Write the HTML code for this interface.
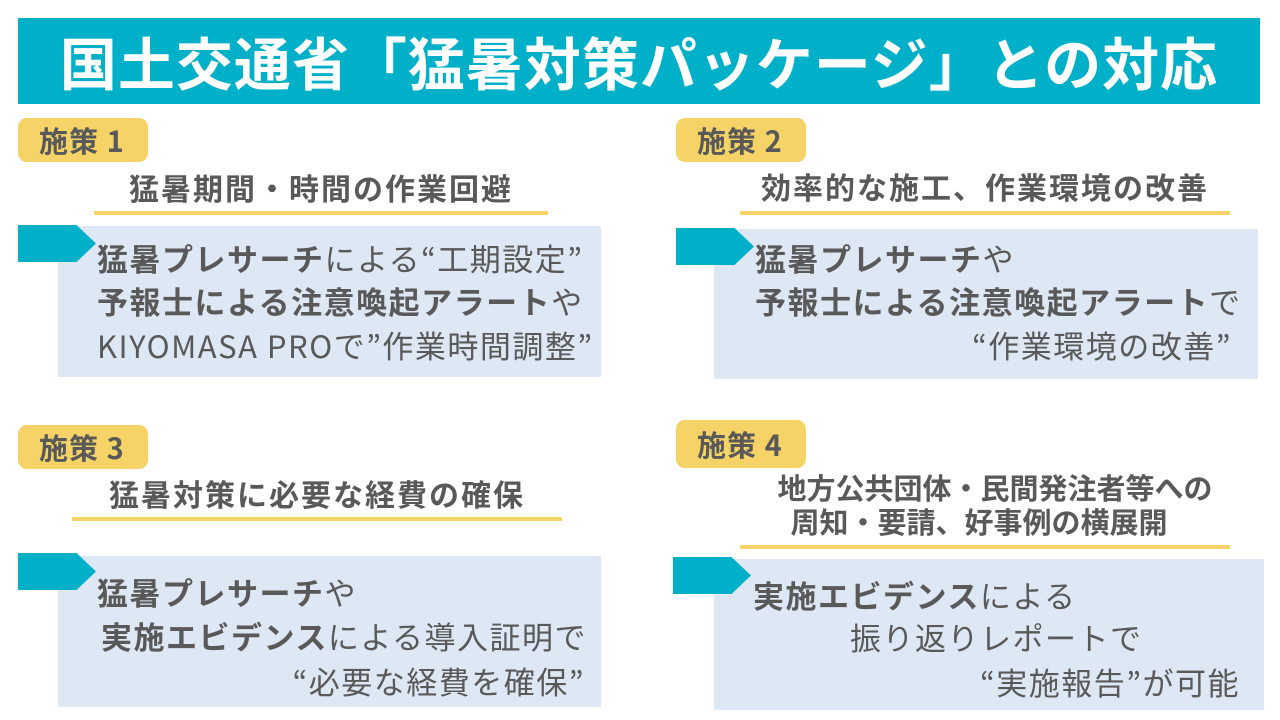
<!DOCTYPE html>
<html><head><meta charset="utf-8"><style>
*{margin:0;padding:0;box-sizing:border-box}
body{width:1280px;height:720px;background:#fff;position:relative;overflow:hidden;font-family:"Noto Sans CJK JP","Liberation Sans",sans-serif;color:#595959}
.a{position:absolute;white-space:nowrap}
.title{left:18px;top:18px;width:1242px;height:86px;background:#00b0c9;color:#fff;font-size:57px;font-weight:700;text-align:center;line-height:86px;letter-spacing:1px}
.badge{background:#f5d367;border-radius:9px;width:130px;height:44px;font-size:29px;font-weight:700;line-height:44px;padding-left:21px;letter-spacing:1px}
.sub{font-size:30px;font-weight:700;text-align:center;line-height:34px;letter-spacing:2px}
.ul{height:4px;background:#f5d367}
.box{background:#dde8f4}
.arr{width:78px;height:37px;background:#00b0c9;clip-path:polygon(0 0,75% 0,100% 50%,75% 100%,0 100%)}
.t{font-size:31px;line-height:44px;letter-spacing:1.5px}
b{font-weight:700}
</style></head><body>
<div class="a title">国土交通省「猛暑対策パッケージ」との対応</div>

<div class="a badge" style="left:18px;top:118px">施策 1</div>
<div class="a sub" style="left:94px;width:454px;top:170px">猛暑期間・時間の作業回避</div>
<div class="a ul" style="left:94px;width:454px;top:211px"></div>
<div class="a box" style="left:58px;top:226px;width:543px;height:151px"></div>
<div class="a arr" style="left:18px;top:225px"></div>
<div class="a t" style="left:97px;top:236px"><b>猛暑プレサーチ</b>による“工期設定”</div>
<div class="a t" style="left:97px;top:279px"><b>予報士による注意喚起アラート</b>や</div>
<div class="a t" style="left:97px;top:323px">KIYOMASA PROで”作業時間調整”</div>

<div class="a badge" style="left:676px;top:118px">施策 2</div>
<div class="a sub" style="left:740px;width:490px;top:169px">効率的な施工、作業環境の改善</div>
<div class="a ul" style="left:740px;width:490px;top:211px"></div>
<div class="a box" style="left:714px;top:229px;width:544px;height:150px"></div>
<div class="a arr" style="left:676px;top:228px"></div>
<div class="a t" style="left:755px;top:236px"><b>猛暑プレサーチ</b>や</div>
<div class="a t" style="left:755px;top:279px"><b>予報士による注意喚起アラート</b>で</div>
<div class="a t" style="left:714px;width:518px;text-align:right;top:323px">“作業環境の改善”</div>

<div class="a badge" style="left:18px;top:425px">施策 3</div>
<div class="a sub" style="left:72px;width:490px;top:476px">猛暑対策に必要な経費の確保</div>
<div class="a ul" style="left:72px;width:490px;top:517px"></div>
<div class="a box" style="left:58px;top:556px;width:543px;height:151px"></div>
<div class="a arr" style="left:18px;top:553px"></div>
<div class="a t" style="left:97px;top:570px"><b>猛暑プレサーチ</b>や</div>
<div class="a t" style="left:101px;top:614px"><b>実施エビデンス</b>による導入証明で</div>
<div class="a t" style="left:58px;width:527px;text-align:right;top:659px">“必要な経費を確保”</div>

<div class="a badge" style="left:676px;top:420px;height:48px;line-height:48px">施策 4</div>
<div class="a sub" style="left:760px;width:470px;top:470px;font-size:29px;letter-spacing:0">地方公共団体・民間発注者等への</div>
<div class="a sub" style="left:740px;width:478px;top:504px;font-size:29px;letter-spacing:0">周知・要請、好事例の横展開</div>
<div class="a ul" style="left:740px;width:490px;top:545px"></div>
<div class="a box" style="left:714px;top:559px;width:550px;height:151px"></div>
<div class="a arr" style="left:673px;top:557px"></div>
<div class="a t" style="left:753px;top:573px"><b>実施エビデンス</b>による</div>
<div class="a t" style="left:850px;top:615px">振り返りレポートで</div>
<div class="a t" style="left:714px;width:526px;text-align:right;top:660px">“実施報告”が可能</div>
</body></html>
